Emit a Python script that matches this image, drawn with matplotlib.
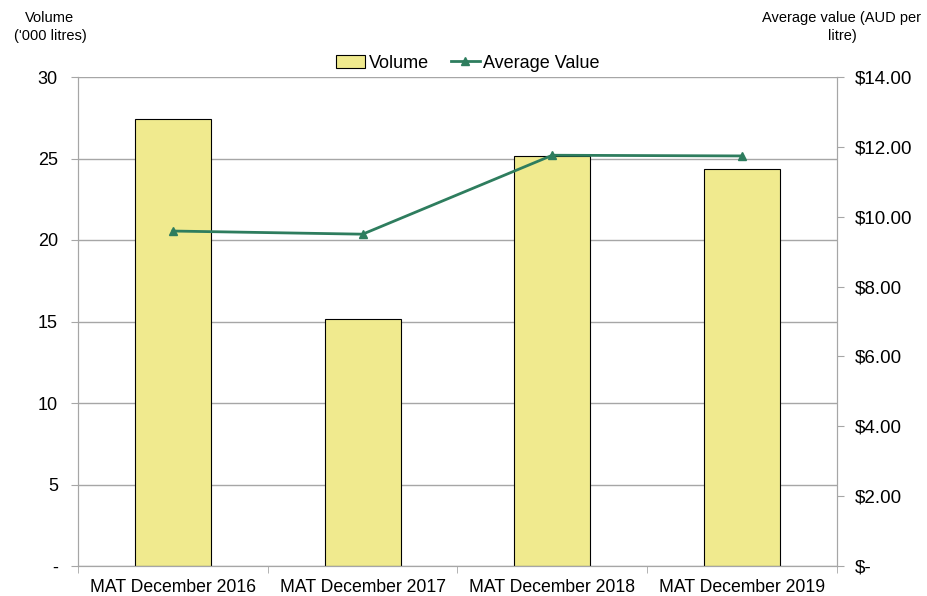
import matplotlib
matplotlib.use("Agg")
import matplotlib.pyplot as plt
from matplotlib.ticker import FixedLocator
import numpy as np

categories = ["MAT December 2016", "MAT December 2017", "MAT December 2018", "MAT December 2019"]
volume = [27.45, 15.18, 25.15, 24.35]
avg_value = [9.59, 9.50, 11.76, 11.74]
left_ticks = [0, 5, 10, 15, 20, 25, 30]
left_labels = ["-", "5", "10", "15", "20", "25", "30"]
right_ticks = [0, 2, 4, 6, 8, 10, 12, 14]
right_labels = ["$-", "$2.00", "$4.00", "$6.00", "$8.00", "$10.00", "$12.00", "$14.00"]

plt.rcParams['font.family'] = ['Liberation Sans', 'DejaVu Sans']

fig = plt.figure(figsize=(9.28, 5.96), dpi=100)
ax = fig.add_axes([78/928, 1-566/596, (837-78)/928, (566-77)/596])
x = np.arange(len(categories))
bar_color = "#f0ea8e"
line_color = "#2e7d5e"
grid_color = "#a6a6a6"

ax.bar(x, volume, width=0.4, color=bar_color, edgecolor="#000000", linewidth=0.8, zorder=2, label="Volume")
ax.set_xlim(-0.5, len(categories) - 0.5)
ax.set_ylim(0, 30)
ax.set_yticks(left_ticks)
ax.set_yticklabels(left_labels, fontsize=13)
ax.yaxis.grid(True, color=grid_color, linewidth=1.0, zorder=0)
ax.set_axisbelow(True)
ax.set_xticks(x)
ax.set_xticklabels(categories, fontsize=12.7)
ax.tick_params(axis='x', length=0, pad=9)
ax.xaxis.set_minor_locator(FixedLocator(np.arange(-0.5, len(categories) + 0.5, 1.0)))
ax.tick_params(axis='x', which='minor', length=5, color=grid_color, direction='out')
ax.tick_params(axis='y', length=5, color=grid_color, pad=9.5)
ax.spines["top"].set_visible(False)
for s in ["left", "right", "bottom"]:
    ax.spines[s].set_color(grid_color)

ax2 = ax.twinx()
ax2.plot(x, avg_value, color=line_color, linewidth=2, marker="^", markersize=6, zorder=3, label="Average Value")
ax2.set_ylim(0, 14)
ax2.set_yticks(right_ticks)
ax2.set_yticklabels(right_labels, fontsize=13.5)
ax2.tick_params(axis='y', length=5, color=grid_color, pad=8)
ax2.spines["top"].set_visible(False)
for s in ["left", "right", "bottom"]:
    ax2.spines[s].set_color(grid_color)

h1, l1 = ax.get_legend_handles_labels()
h2, l2 = ax2.get_legend_handles_labels()
fig.legend(h1 + h2, l1 + l2, loc="center", bbox_to_anchor=(468/928, 1-63/596), ncol=2,
           frameon=False, fontsize=13, handlelength=1.6, handletextpad=0.2, columnspacing=1.2)

fig.text(50/928, 1-27/596, "Volume\n('000 litres)", ha="center", va="center", fontsize=10.5, linespacing=1.3)
fig.text(842/928, 1-27/596, "Average value (AUD per\nlitre)", ha="center", va="center", fontsize=10.5, linespacing=1.3)

fig.savefig("out.png", dpi=100)
